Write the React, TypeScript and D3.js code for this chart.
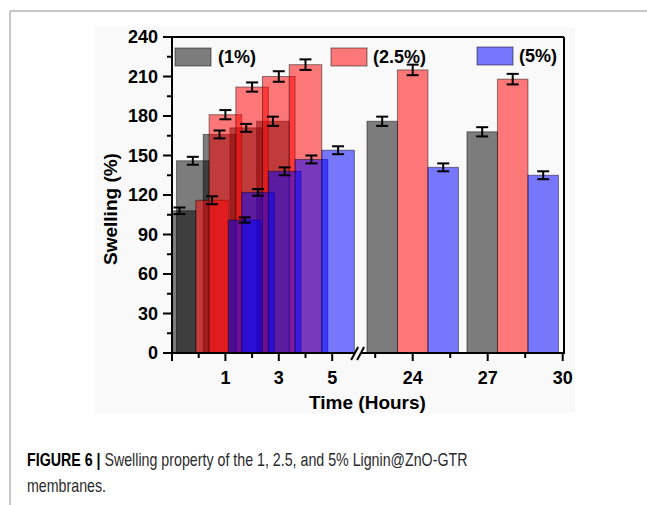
import React from 'react';
import * as d3 from 'd3';

// time points (hours) and swelling values
const times = [0.5, 1, 2, 3, 4, 24, 28];
const swell1 = [108, 146, 166, 171, 176, 176, 168];
const swell25 = [116, 181, 202, 210, 219, 215, 208];
const swell5 = [101, 122, 138, 147, 154, 141, 135];
const err1 = [2.5, 3, 3, 3, 3.5, 3.5, 3.5];
const err25 = [3, 3.5, 3.5, 4, 4, 4, 4];
const err5 = [2, 2.5, 3, 3, 3, 3, 3];
const seriesNames = ['(1%)', '(2.5%)', '(5%)'];
const yTicks = [0, 30, 60, 90, 120, 150, 180, 210, 240];
const xMajorLeft = [-1, 1, 3, 5];
const xMinorLeft = [0, 2, 4];
const xMajorRight = [24, 27, 30];
const xMinorRight = [22.5, 25.5, 28.5];

const W = 647, H = 505;
const plot = { left: 172, right: 564, top: 37, bottom: 353 };
const colors = ['rgba(0,0,0,0.5)', 'rgba(255,0,0,0.52)', 'rgba(0,0,255,0.52)'];
const barW = 1.22; // bar width and offset in hours
const font = '"Liberation Sans", Arial, sans-serif';

const y = d3.scaleLinear().domain([0, 240]).range([plot.bottom, plot.top]);
const xL = d3.scaleLinear().domain([-1, 5.8]).range([plot.left, plot.left + 6.8 * 26.7]);
const xR = d3.scaleLinear().domain([22, 30]).range([362.7, 562.7]);

export default function App() {
  const series = [swell1, swell25, swell5];
  const errs = [err1, err25, err5];
  const breakX = (xL.range()[1] + xR.range()[0]) / 2;

  const bars: JSX.Element[] = [];
  const errBars: JSX.Element[] = [];
  series.forEach((vals, si) => {
    vals.forEach((v, i) => {
      const t = times[i];
      const sc = t < 10 ? xL : xR;
      const cx = t + (si - 1) * barW;
      let x0 = sc(cx - barW / 2);
      const x1 = sc(cx + barW / 2);
      x0 = Math.max(x0, plot.left);
      bars.push(
        <rect key={`b${si}-${i}`} x={x0} y={y(v)} width={x1 - x0} height={y(0) - y(v)}
          fill={colors[si]} stroke="rgba(0,0,0,0.45)" strokeWidth={1} />
      );
      const ex = sc(cx);
      const e = errs[si][i];
      errBars.push(
        <g key={`e${si}-${i}`} stroke="#000" strokeWidth={2}>
          <line x1={ex} x2={ex} y1={y(v - e)} y2={y(v + e)} />
          <line x1={ex - 6} x2={ex + 6} y1={y(v - e)} y2={y(v - e)} />
          <line x1={ex - 6} x2={ex + 6} y1={y(v + e)} y2={y(v + e)} />
        </g>
      );
    });
  });

  const legend = [
    { x: 175, y: 48, tx: 218 },
    { x: 331, y: 48, tx: 373 },
    { x: 477, y: 47, tx: 519 },
  ];

  return (
    <svg width={W} height={H} style={{ position: 'absolute', left: 0, top: 0, background: '#fff' }}>
      <line x1={10} x2={W} y1={11} y2={11} stroke="#b4b4b4" strokeWidth={1.5} />
      <line x1={10} x2={10} y1={11} y2={H} stroke="#b4b4b4" strokeWidth={1.5} />
      <rect x={95} y={27} width={480} height={386} fill="#f9f9f9" />

      {bars}
      {errBars}

      {/* frame and axes */}
      <g stroke="#000" strokeWidth={2} fill="none">
        <line x1={plot.left} x2={plot.right} y1={plot.top} y2={plot.top} />
        <line x1={plot.right} x2={plot.right} y1={plot.top} y2={plot.bottom} />
        <line x1={plot.left} x2={plot.left} y1={plot.top} y2={plot.bottom + 1} />
        <line x1={plot.left - 1} x2={plot.right + 1} y1={plot.bottom} y2={plot.bottom} />
      </g>
      <g stroke="#f9f9f9" strokeWidth={4}>
        <line x1={breakX - 3} x2={breakX + 3} y1={plot.bottom} y2={plot.bottom} />
      </g>
      <g stroke="#000" strokeWidth={2}>
        <line x1={breakX - 7} y1={plot.bottom + 7} x2={breakX} y2={plot.bottom - 6} />
        <line x1={breakX - 1} y1={plot.bottom + 7} x2={breakX + 6} y2={plot.bottom - 6} />
      </g>

      {/* ticks */}
      <g stroke="#000" strokeWidth={2}>
        {yTicks.map((t) => (
          <line key={`yt${t}`} x1={plot.left - 9} x2={plot.left} y1={y(t)} y2={y(t)} />
        ))}
        {yTicks.slice(0, -1).map((t) => (
          <line key={`ym${t}`} x1={plot.left - 5} x2={plot.left} y1={y(t + 15)} y2={y(t + 15)} />
        ))}
        {xMajorLeft.map((t) => (
          <line key={`xl${t}`} x1={xL(t)} x2={xL(t)} y1={plot.bottom} y2={plot.bottom + 8} />
        ))}
        {xMinorLeft.map((t) => (
          <line key={`xlm${t}`} x1={xL(t)} x2={xL(t)} y1={plot.bottom} y2={plot.bottom + 5} />
        ))}
        {xMajorRight.map((t) => (
          <line key={`xr${t}`} x1={xR(t)} x2={xR(t)} y1={plot.bottom} y2={plot.bottom + 8} />
        ))}
        {xMinorRight.map((t) => (
          <line key={`xrm${t}`} x1={xR(t)} x2={xR(t)} y1={plot.bottom} y2={plot.bottom + 5} />
        ))}
      </g>

      <g fontFamily={font} fontWeight="bold" fontSize={18} fill="#000">
        {yTicks.map((t) => (
          <text key={`yl${t}`} x={158} y={y(t)} dy="0.36em" textAnchor="end">{t}</text>
        ))}
        {xMajorLeft.filter((t) => t > 0).map((t) => (
          <text key={`xll${t}`} x={xL(t)} y={383.5} textAnchor="middle">{t}</text>
        ))}
        {xMajorRight.map((t) => (
          <text key={`xrl${t}`} x={xR(t)} y={383.5} textAnchor="middle">{t}</text>
        ))}
        <text x={367.5} y={409} textAnchor="middle" fontSize={19}>Time (Hours)</text>
        <text transform="translate(117,209) rotate(-90)" textAnchor="middle" fontSize={19}>Swelling (%)</text>
        {legend.map((l, i) => (
          <g key={`lg${i}`}>
            <rect x={l.x} y={l.y} width={36} height={18} fill={colors[i]} stroke="rgba(0,0,0,0.5)" strokeWidth={1} />
            <text x={l.tx} y={l.y + 15}>{seriesNames[i]}</text>
          </g>
        ))}
      </g>

      {/* caption, horizontally condensed like the journal's font */}
      <g fontFamily={font} fontSize={18} transform="translate(27,0) scale(0.79,1)">
        <text x={0} y={466} fill="#2a2a2a">
          <tspan fontWeight="bold" fill="#000">FIGURE 6 | </tspan>
          <tspan>Swelling property of the 1, 2.5, and 5% Lignin@ZnO-GTR</tspan>
        </text>
        <text x={0} y={492} fill="#2a2a2a">membranes.</text>
      </g>
    </svg>
  );
}
